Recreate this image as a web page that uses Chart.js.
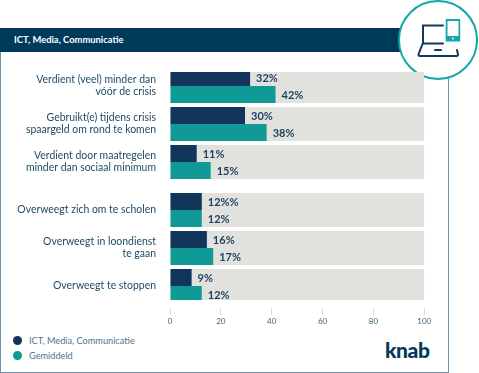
<!DOCTYPE html>
<html>
<head>
<meta charset="utf-8">
<script src="https://cdn.jsdelivr.net/npm/chart.js@4"></script>
<style>
  body { margin: 0; background: #fff; font-family: Lato, sans-serif; }
  #wrap { position: relative; width: 479px; height: 373px; overflow: hidden; }
  #frame { position: absolute; left: 0; top: 28px; width: 447px; height: 343px; border: 1px solid #6d93aa; }
  #header { position: absolute; left: 0; top: 28px; width: 420px; height: 24px; line-height: 24px; background: #003a5b; color: #fff; font-size: 9.4px; font-weight: 700; text-indent: 14px; }
  #icon { position: absolute; left: 0; top: 0; }
  #logo { position: absolute; left: 385px; top: 337px; color: #003a5b; font-size: 21px; font-weight: 900; letter-spacing: -0.4px; line-height: 26px; }
  #legend { position: absolute; left: 13px; top: 333px; color: #54748b; font-size: 9.2px; }
  #legend div { height: 15px; line-height: 15px; white-space: nowrap; }
  #legend i { display: inline-block; width: 9px; height: 9px; border-radius: 50%; margin-right: 7px; vertical-align: -1px; }
  canvas { position: absolute; left: 0; top: 0; }
</style>
</head>
<body>
<div id="wrap">
  <div id="frame"></div>
  <div id="header">ICT, Media, Communicatie</div>
  <svg id="icon" width="479" height="90">
    <circle cx="438" cy="40" r="39" fill="#fff" stroke="#11a7a5" stroke-width="2"/>
    <g fill="none" stroke="#12395c" stroke-width="2" stroke-linecap="round">
      <path d="M443 25.5H423V43.5H443"/>
      <path d="M422.5 44L418.5 54.5Q418.5 56 420 56H456.5Q458 56 458 54.5L457 50"/>
      <path d="M435 50H441"/>
    </g>
    <rect x="445.7" y="19" width="14.5" height="22.5" fill="#11a7a5"/>
    <rect x="447.5" y="21" width="11" height="15" fill="#fff"/>
    <circle cx="452.8" cy="38.6" r="1" fill="#fff"/>
  </svg>
  <div id="logo">knab</div>
  <div id="legend"></div>
  <canvas id="myChart" width="479" height="373"></canvas>
</div>
<script>
// 縦軸のカテゴリ
const categories = [
    ['Verdient (veel) minder dan', 'vóór de crisis'],
    ['Gebruikt(e) tijdens crisis', 'spaargeld om rond te komen'],
    ['Verdient door maatregelen', 'minder dan sociaal minimum'],
    'Overweegt zich om te scholen',
    ['Overweegt in loondienst', 'te gaan'],
    'Overweegt te stoppen'
];

// データ
const ictValues = [31.5, 29.5, 10.5, 12.5, 14.5, 8.5];
const avgValues = [41.5, 38, 16, 12.5, 17, 12.5];
const fullValues = [100, 100, 100, 100, 100, 100];

// バーに表示する文字（元の図のまま）
const ictLabels = ['32%', '30%', '11%', '12%%', '16%', '9%'];
const avgLabels = ['42%', '38%', '15%', '12%', '17%', '12%'];

const xTicks = [0, 20, 40, 60, 80, 100];

// 3番目と4番目の間だけ少し広げる
const groupGap = 5;
function addGap(scale) {
    if (scale.gapDone) return;
    scale.gapDone = true;
    const orig = scale.getPixelForValue;
    scale.getPixelForValue = function (value, index) {
        const v = typeof value === 'number' ? value : this.parse(value, index);
        return orig.call(this, v) + (v >= 3 ? groupGap : -groupGap);
    };
}

// バーの右に値を書く
const valueLabels = {
    id: 'valueLabels',
    afterDatasetsDraw(chart) {
        const ctx = chart.ctx;
        ctx.save();
        ctx.font = '700 11px Lato';
        ctx.fillStyle = '#1c3f5e';
        ctx.textBaseline = 'middle';
        [ictLabels, avgLabels].forEach((labels, d) => {
            chart.getDatasetMeta(d).data.forEach((bar, i) => {
                ctx.fillText(labels[i], bar.x + 6, bar.y + 0.5);
            });
        });
        ctx.restore();
    }
};

const data = {
    labels: categories,
    datasets: [
        { label: 'ICT, Media, Communicatie', data: ictValues, backgroundColor: '#12355b', order: 1 },
        { label: 'Gemiddeld', data: avgValues, backgroundColor: '#0f9a96', order: 1 },
        { label: 'bg', data: fullValues, backgroundColor: '#e1e2de', grouped: false, order: 2 }
    ]
};

const config = {
    type: 'bar',
    data: data,
    plugins: [valueLabels],
    options: {
        indexAxis: 'y',
        responsive: false,
        animation: false,
        categoryPercentage: 34 / 38,
        barPercentage: 1,
        layout: { padding: { top: 72, right: 54.7, bottom: 0, left: 0 } },
        plugins: {
            tooltip: { enabled: false },
            legend: { display: false }
        },
        scales: {
            x: {
                type: 'linear',
                min: 0,
                max: 100,
                afterBuildTicks: s => { s.ticks = xTicks.map(v => ({ value: v })); },
                afterFit: s => { s.height = 73; },
                border: { display: false },
                grid: {
                    drawOnChartArea: false,
                    tickLength: 15,
                    tickColor: '#d9dcdb',
                    tickBorderDash: [7, 20],
                    tickBorderDashOffset: -8
                },
                ticks: { padding: 2, color: '#3d607a', font: { family: 'Lato', size: 8 }, maxRotation: 0 }
            },
            y: {
                type: 'category',
                afterBuildTicks: addGap,
                afterFit: s => { s.width = 170; },
                border: { display: false },
                grid: { display: false },
                ticks: {
                    autoSkip: false,
                    padding: 6,
                    color: '#1f4a66',
                    font: { family: 'Lato', size: 10.45, lineHeight: 1.13 }
                }
            }
        }
    }
};

const myChart = new Chart(document.getElementById('myChart'), config);

// 凡例（縦に並べるのでHTMLで作る）
const legendBox = document.getElementById('legend');
data.datasets.slice(0, 2).forEach(ds => {
    const row = document.createElement('div');
    const dot = document.createElement('i');
    dot.style.background = ds.backgroundColor;
    row.appendChild(dot);
    row.appendChild(document.createTextNode(ds.label));
    legendBox.appendChild(row);
});
</script>
</body>
</html>
